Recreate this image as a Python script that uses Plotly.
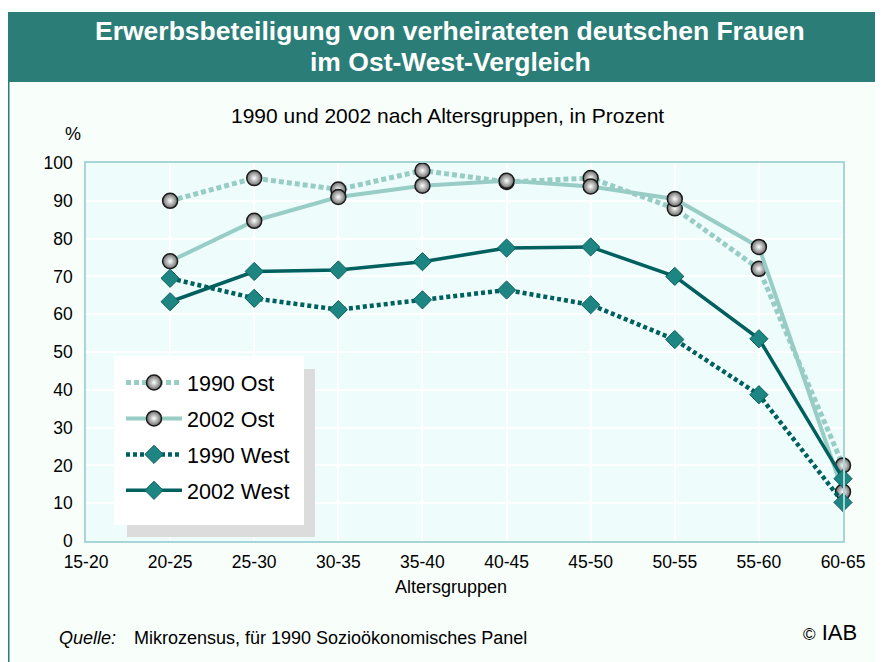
import plotly.graph_objects as go

categories = ["15-20", "20-25", "25-30", "30-35", "35-40", "40-45", "45-50", "50-55", "55-60", "60-65"]
ost_1990 = [None, 90, 96, 93, 98, 95, 96, 88, 72, 20]
ost_2002 = [None, 74, 84.7, 91, 94, 95.3, 93.8, 90.5, 77.8, 13]
west_1990 = [None, 69.5, 64.2, 61.2, 63.8, 66.4, 62.5, 53.3, 38.7, 10.2]
west_2002 = [None, 63.3, 71.3, 71.7, 73.9, 77.5, 77.8, 70.0, 53.5, 16.5]
y_ticks = list(range(0, 101, 10))

LIGHT = "#97cdc4"
DARK = "#00605f"
TEAL_HDR = "#2b7d77"
FONT = "Liberation Sans, Arial, sans-serif"

# page body has an 8px margin -> figure is 875x654, placed at (8, 8)
W, H = 875, 654
PL, PR, PT, PB = 86, 843, 163, 541  # plot area in window coordinates
PW, PH = PR - PL, PB - PT


def px(X):
    return (X - PL) / PW


def py(Y):
    return (PB - Y) / PH


fig = go.Figure()

sphere = dict(symbol="circle", size=15, color="#6a6a6a",
              gradient=dict(type="radial", color="#ffffff"),
              line=dict(color="#1a1a1a", width=1.5))
diamond = dict(symbol="diamond", size=14, color="#1d8683",
               line=dict(color="#0b5e5c", width=1))

fig.add_trace(go.Scatter(x=categories, y=ost_1990, name="1990 Ost", mode="lines+markers",
                         line=dict(color=LIGHT, width=5, dash="5px,3px"), marker=sphere,
                         cliponaxis=False, legendgroup="a"))
fig.add_trace(go.Scatter(x=categories, y=ost_2002, name="2002 Ost", mode="lines+markers",
                         line=dict(color=LIGHT, width=4), marker=sphere,
                         cliponaxis=False, legendgroup="b"))
fig.add_trace(go.Scatter(x=categories, y=west_1990, name="1990 West", mode="lines+markers",
                         line=dict(color=DARK, width=4.5, dash="4px,3px"), marker=diamond,
                         cliponaxis=False, legendgroup="c"))
fig.add_trace(go.Scatter(x=categories, y=west_2002, name="2002 West", mode="lines+markers",
                         line=dict(color=DARK, width=3.5), marker=diamond,
                         cliponaxis=False, legendgroup="d"))

shapes = [
    # body frame left border
    dict(type="line", xref="paper", yref="paper", x0=px(8.5), x1=px(8.5),
         y0=py(662), y1=py(82), line=dict(color=TEAL_HDR, width=2), layer="below"),
    # header box
    dict(type="rect", xref="paper", yref="paper",
         x0=px(7), x1=px(884), y0=py(82), y1=py(12),
         fillcolor=TEAL_HDR, line=dict(width=0), layer="below"),
    # legend shadow
    dict(type="rect", xref="paper", yref="paper",
         x0=px(127), x1=px(315), y0=py(537), y1=py(369),
         fillcolor="#dcdcdc", line=dict(width=0), layer="above"),
    # legend box
    dict(type="rect", xref="paper", yref="paper",
         x0=px(114), x1=px(304), y0=py(525), y1=py(356),
         fillcolor="white", line=dict(width=0), layer="above"),
]


def ann(text, X, Y, size, xanchor="center", color="black"):
    return dict(text=text, xref="paper", yref="paper", x=px(X), y=py(Y), showarrow=False,
                font=dict(family=FONT, size=size, color=color), xanchor=xanchor,
                yanchor="middle")


annotations = [
    ann("<b>Erwerbsbeteiligung von verheirateten deutschen Frauen</b>", 450, 31, 26.5, color="white"),
    ann("<b>im Ost-West-Vergleich</b>", 450, 62, 26.5, color="white"),
    ann("1990 und 2002 nach Altersgruppen, in Prozent", 447, 115, 21),
    ann("%", 73, 134, 18),
    ann("Altersgruppen", 451, 587, 18),
    ann("<i>Quelle:</i>", 57, 638, 18, xanchor="left"),
    ann("Mikrozensus, für 1990 Sozioökonomisches Panel", 132, 638, 18, xanchor="left"),
    ann("<span style='font-size:17px'>©</span> IAB", 859, 632, 22, xanchor="right"),
]

fig.update_layout(
    width=W, height=H,
    margin=dict(l=PL - 8, r=W - (PR - 8), t=PT - 8, b=H - (PB - 8)),
    paper_bgcolor="#f8fefa",
    plot_bgcolor="#effcfc",
    font=dict(family=FONT, size=17.5, color="black"),
    showlegend=True,
    legend=dict(x=px(121), y=py(362), xanchor="left", yanchor="top",
                bgcolor="rgba(0,0,0,0)", borderwidth=0, font=dict(family=FONT, size=21.5),
                tracegroupgap=5, itemwidth=56),
    shapes=shapes,
    annotations=annotations,
    xaxis=dict(type="category", categoryorder="array", categoryarray=categories,
               range=[0, 9], showgrid=True, gridcolor="white", gridwidth=2,
               showline=True, linecolor="#a8d6d6", linewidth=1.5, mirror=True,
               ticks="", tickfont=dict(size=17.5), ticklabelstandoff=4,
               zeroline=False, fixedrange=True),
    yaxis=dict(range=[0, 100], tickvals=y_ticks, showgrid=True, gridcolor="white", gridwidth=2,
               showline=True, linecolor="#a8d6d6", linewidth=1.5, mirror=True,
               ticks="", tickfont=dict(size=17.5), ticklabelstandoff=8,
               zeroline=False, fixedrange=True),
)

fig.write_html("out.html")
